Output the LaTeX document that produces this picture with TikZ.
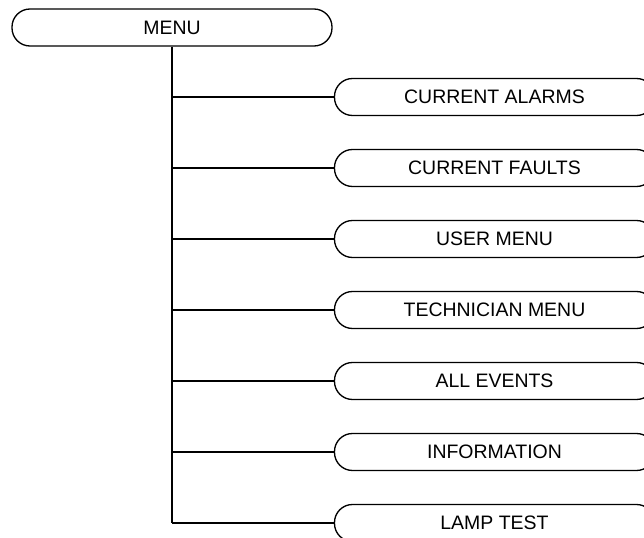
\documentclass[tikz,border=0pt]{standalone}
\usepackage{fontspec}
\setmainfont{Liberation Sans}

\tikzset{
  menubox/.style={draw, line width=1pt, rounded corners=13.5pt,
    minimum width=240pt, minimum height=27.75pt, inner sep=0pt,
    font=\fontsize{14.6}{17}\selectfont},
  branch/.style={line width=1pt}
}

\begin{document}
\begin{tikzpicture}[x=0.75pt, y=-0.75pt]
\useasboundingbox (0,0) rectangle (644,538);
\clip (0,0) rectangle (644,538);

\node[menubox] (menu) at (172, 27.5) {MENU};

\node[menubox] (alarms) at (494.5, 97) {CURRENT ALARMS};
\node[menubox] (faults) at (494.5, 168) {CURRENT FAULTS};
\node[menubox] (user) at (494.5, 239) {USER MENU};
\node[menubox] (tech) at (494.5, 310) {TECHNICIAN MENU};
\node[menubox] (events) at (494.5, 381) {ALL EVENTS};
\node[menubox] (info) at (494.5, 452) {INFORMATION};
\node[menubox] (lamp) at (494.5, 523) {LAMP TEST};

% trunk down from MENU, last branch turns into LAMP TEST
\draw[line width=1.3pt] (menu.south) -- (menu.south |- lamp.west);
\draw[branch] (menu.south |- lamp.west) -- (lamp.west);

\draw[branch] (menu.south |- alarms.west) -- (alarms.west);
\draw[branch] (menu.south |- faults.west) -- (faults.west);
\draw[branch] (menu.south |- user.west) -- (user.west);
\draw[branch] (menu.south |- tech.west) -- (tech.west);
\draw[branch] (menu.south |- events.west) -- (events.west);
\draw[branch] (menu.south |- info.west) -- (info.west);

\end{tikzpicture}
\end{document}
